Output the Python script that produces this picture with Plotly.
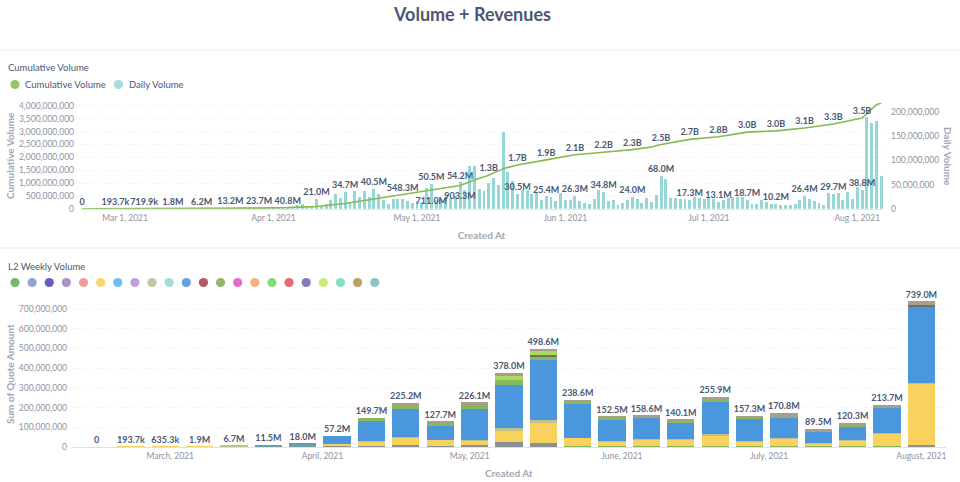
import pandas as pd
import plotly.graph_objects as go

W, H = 960, 482

# ---------- top chart data ----------
daily_start = "2021-02-20"
daily_m = [
    0, 0.01, 0.02, 0.02, 0.03, 0.03, 0.04, 0.05, 0.06,
    .08, .08, .1, .12, .1, .15, .15, .2, .2, .2, .2, .4, .5, .7, .8, 1, 1, 1, 1, 1.2, 1.3, 1.2, 1.3,
    1.5, 1.7, 1.8, 1.8, 1.8, 1.9, 2, 2.2,
    2.5, 3, 3.2, 4.2, 3, 7, 10, 4, 3,
    21, 5, 10, 19, 31, 23, 34.7, 12, 37, 24, 36, 25, 40.5, 30, 18, 10, 21, 21, 21, 16, 11,
    15, 14, 43, 50.5, 17, 19, 22, 22, 26, 54.2, 38, 89, 89, 41, 36, 54, 63, 48, 159, 76, 58, 30.5,
    38, 38, 31, 32, 19, 25.4, 25, 15, 32,
    19, 19, 26.3, 15, 12, 10, 21, 39, 34.8, 16, 19, 7, 12, 17, 24, 21, 12, 23, 14, 29, 68, 62, 23,
    22, 21, 21, 17.3, 25, 23, 21,
    22, 21, 13.1, 19, 22, 24, 25, 25, 18.7, 10, 10, 19, 13, 10, 10.2, 8, 7, 7, 10, 19, 26.4, 21, 15,
    12, 8, 33, 29.7, 32, 19, 35, 21,
    45, 38.8, 190, 177, 182, 67,
]
cum_dates = ["2021-02-20", "2021-02-27", "2021-03-05", "2021-03-11", "2021-03-17", "2021-03-23",
             "2021-03-29", "2021-04-04", "2021-04-10", "2021-04-16", "2021-04-22", "2021-04-28",
             "2021-05-04", "2021-05-10", "2021-05-13", "2021-05-16", "2021-05-19", "2021-05-22",
             "2021-05-28", "2021-06-03", "2021-06-09", "2021-06-15", "2021-06-19", "2021-06-21",
             "2021-06-27", "2021-07-03", "2021-07-09", "2021-07-15", "2021-07-21", "2021-07-27",
             "2021-08-02", "2021-08-03", "2021-08-04", "2021-08-05", "2021-08-06"]
cum_m = [0, .1937, .7199, 1.8, 6.2, 13.2, 23.7, 40.8, 85, 205, 375, 548.3, 711, 903.3, 1120, 1300,
         1560, 1700, 1900, 2100, 2200, 2300, 2400, 2500, 2700, 2800, 2980, 3030, 3140, 3300,
         3530, 3710, 3880, 4050, 4120]

cum_label_dates = ["2021-02-20", "2021-02-27", "2021-03-05", "2021-03-11", "2021-03-17", "2021-03-23",
                   "2021-03-29", "2021-04-04", "2021-04-28", "2021-05-16", "2021-05-22", "2021-05-28",
                   "2021-06-03", "2021-06-09", "2021-06-15", "2021-06-21", "2021-06-27", "2021-07-03",
                   "2021-07-09", "2021-07-15", "2021-07-21", "2021-07-27", "2021-08-02"]
cum_label_vals = [0, .1937, .7199, 1.8, 6.2, 13.2, 23.7, 40.8, 548.3, 1300, 1700, 1900, 2100, 2200,
                  2300, 2500, 2700, 2800, 2980, 3030, 3140, 3300, 3530]
cum_label_text = ["0", "193.7k", "719.9k", "1.8M", "6.2M", "13.2M", "23.7M", "40.8M", "548.3M", "1.3B",
                  "1.7B", "1.9B", "2.1B", "2.2B", "2.3B", "2.5B", "2.7B", "2.8B", "3.0B", "3.0B",
                  "3.1B", "3.3B", "3.5B"]
cum_low_dates = ["2021-05-04", "2021-05-10"]
cum_low_vals = [711, 903.3]
cum_low_text = ["711.0M", "903.3M"]

day_label_dates = ["2021-04-10", "2021-04-16", "2021-04-22", "2021-05-04", "2021-05-10", "2021-05-22",
                   "2021-05-28", "2021-06-03", "2021-06-09", "2021-06-15", "2021-06-21", "2021-06-27",
                   "2021-07-03", "2021-07-09", "2021-07-15", "2021-07-21", "2021-07-27", "2021-08-02"]
day_label_vals = [21, 34.7, 40.5, 50.5, 54.2, 30.5, 25.4, 26.3, 34.8, 24, 68, 17.3, 13.1, 18.7, 10.2,
                  26.4, 29.7, 38.8]
day_label_text = ["21.0M", "34.7M", "40.5M", "50.5M", "54.2M", "30.5M", "25.4M", "26.3M", "34.8M",
                  "24.0M", "68.0M", "17.3M", "13.1M", "18.7M", "10.2M", "26.4M", "29.7M", "38.8M"]

# ---------- bottom chart data ----------
weeks = ["2021-02-14", "2021-02-21", "2021-02-28", "2021-03-07", "2021-03-14", "2021-03-21", "2021-03-28",
         "2021-04-04", "2021-04-11", "2021-04-18", "2021-04-25", "2021-05-02", "2021-05-09", "2021-05-16",
         "2021-05-23", "2021-05-30", "2021-06-06", "2021-06-13", "2021-06-20", "2021-06-27", "2021-07-04",
         "2021-07-11", "2021-07-18", "2021-07-25", "2021-08-01"]
totals = [0, .1937, .6353, 1.9, 6.7, 11.5, 18.0, 57.2, 149.7, 225.2, 127.7, 226.1, 378.0, 498.6, 238.6,
          152.5, 158.6, 140.1, 255.9, 157.3, 170.8, 89.5, 120.3, 213.7, 739.0]
total_text = ["0", "193.7k", "635.3k", "1.9M", "6.7M", "11.5M", "18.0M", "57.2M", "149.7M", "225.2M",
              "127.7M", "226.1M", "378.0M", "498.6M", "238.6M", "152.5M", "158.6M", "140.1M", "255.9M",
              "157.3M", "170.8M", "89.5M", "120.3M", "213.7M", "739.0M"]
grey_base = [0, 0, 0, 0, 0, 0, 0, 3, 6, 8, 6, 12, 24, 20, 0, 0, 0, 0, 0, 0, 0, 0, 0, 0, 8]
green_low = [0, 0, 0, 0, 0, 0, 0, 0, 0, 0, 0, 0, 0, 0, 4, 3, 3, 3, 5, 3, 3, 5, 3, 4, 0]
teal_low = [0, 0, 0, 0, 0, 11.5, 18, 0, 0, 0, 0, 0, 0, 0, 0, 0, 0, 0, 0, 0, 0, 0, 0, 0, 0]
yellow = [0, .1937, .6353, 1.9, 0, 0, 0, 12.2, 24, 38, 30, 20, 61, 105, 44, 25, 36, 33, 54, 25, 42, 14, 28, 62, 312]
olive = [0, 0, 0, 0, 6.7, 0, 0, 0, 2.7, 3, 2, 5, 10, 10, 0, 5, 4, 3, 8, 3, 3, 3, 3, 3, 5]
blue = [0, 0, 0, 0, 0, 0, 0, 42, 97, 142, 70, 157, 221, 306, 171, 108, 105, 85, 162, 115, 102, 56, 70, 130, 388]
green = [0, 0, 0, 0, 0, 0, 0, 0, 20, 22, 14, 24, 25, 14, 8, 10, 7, 9, 15, 6, 3.8, 7, 9, 8, 0]
dark = [0, 0, 0, 0, 0, 0, 0, 0, 0, 0, 0, 0, 0, 13, 0, 0, 0, 0, 0, 0, 0, 0, 0, 0, 8]
lime = [0, 0, 0, 0, 0, 0, 0, 0, 0, 0, 0, 0, 17, 24, 0, 0, 0, 0, 0, 0, 0, 0, 0, 0, 0]
tan = [0, 0, 0, 0, 0, 0, 0, 0, 0, 12.2, 5.7, 8.1, 20, 6.6, 11.6, 1.5, 3.6, 7.1, 11.9, 5.3, 17, 4.5, 7.3, 6.7, 18]
stack_names = ["Grey", "Low green", "Teal", "Yellow", "Olive", "Blue", "Green", "Dark", "Lime", "Tan"]
stack_values = [grey_base, green_low, teal_low, yellow, olive, blue, green, dark, lime, tan]
stack_colors = ["#8b9096", "#8db35a", "#6c9fa8", "#f8d25c", "#c0c28c", "#4a97de", "#86b95a", "#6f7170",
                "#a9dc5e", "#a89e8a"]

legend_colors = ["#55ad55", "#7f93c6", "#4a41ae", "#9b80c2", "#e98d88", "#f9cf58", "#55b4ee", "#b78de0",
                 "#b4bd90", "#94d6d4", "#4a90d9", "#a83c4c", "#7fa84c", "#e24fc6", "#f2a56c", "#6bd65c",
                 "#e84c5e", "#6a66a8", "#c2e660", "#70dcb0", "#b08f4a", "#7ab8bc"]

TEXT = "#4c5773"
TICK = "#8d93a3"
TITLE = "#a2a7b5"
FONT = "Lato, 'Noto Sans', sans-serif"


def fx(px):
    return px / W


def fy(px):
    return 1 - px / H


M = 1e6
day_x = pd.date_range(daily_start, periods=len(daily_m), freq="D")
DAY_MS = 86400000
LABEL = dict(size=9, color=TEXT, family=FONT, weight=700)
SPACER = dict(size=1, opacity=0)  # invisible marker that sets the label's distance from its point
SPACER_LOW = dict(size=10, opacity=0)

fig = go.Figure()

fig.add_bar(x=day_x, y=[v * M for v in daily_m], name="Daily Volume", marker_color="#95d6d6",
            marker_line_width=0, width=0.62 * DAY_MS, xaxis="x", yaxis="y")
fig.add_scatter(x=day_label_dates, y=[v * M for v in day_label_vals], text=day_label_text, mode="markers+text",
                marker=SPACER, textposition="top center", textfont=LABEL,
                cliponaxis=False, xaxis="x", yaxis="y", showlegend=False)
fig.add_scatter(x=cum_dates, y=[v * M for v in cum_m], name="Cumulative Volume", mode="lines",
                line=dict(color="#86ba4e", width=1.6), xaxis="x", yaxis="y2", cliponaxis=False)
fig.add_scatter(x=cum_label_dates, y=[v * M for v in cum_label_vals], text=cum_label_text, mode="markers+text",
                marker=SPACER, textposition="top center", textfont=LABEL,
                cliponaxis=False, xaxis="x", yaxis="y2", showlegend=False)
fig.add_scatter(x=cum_low_dates, y=[v * M for v in cum_low_vals], text=cum_low_text, mode="markers+text",
                marker=SPACER_LOW, textposition="bottom center", textfont=LABEL,
                cliponaxis=False, xaxis="x", yaxis="y2", showlegend=False)

for name, vals, color in zip(stack_names, stack_values, stack_colors):
    fig.add_bar(x=weeks, y=[v * M for v in vals], name=name, marker_color=color, marker_line_width=0,
                width=5.55 * DAY_MS, xaxis="x2", yaxis="y3")
fig.add_scatter(x=weeks, y=[v * M for v in totals], text=total_text, mode="markers+text",
                marker=SPACER, textposition="top center", textfont=LABEL,
                cliponaxis=False, xaxis="x2", yaxis="y3", showlegend=False)

shapes = []
annots = []


def dot(px, py, color, r=4.6):
    shapes.append(dict(type="circle", xref="paper", yref="paper", x0=fx(px - r), x1=fx(px + r),
                       y0=fy(py + r), y1=fy(py - r), fillcolor=color, opacity=0.85,
                       line=dict(width=0), layer="above"))


def label(px, py, text, size=9.5, color=TEXT, weight=400, xanchor="left", angle=0):
    annots.append(dict(x=fx(px), y=fy(py), xref="paper", yref="paper", text=text, showarrow=False,
                       xanchor=xanchor, yanchor="middle", borderpad=0, borderwidth=0, textangle=angle,
                       font=dict(size=size, color=color, family=FONT, weight=weight)))


label(472, 14, "Volume + Revenues", size=18, weight=700, xanchor="center")
label(8, 68, "Cumulative Volume")
label(8, 266, "L2 Weekly Volume")
dot(15, 84.5, "#86ba4e")
label(25, 84.5, "Cumulative Volume")
dot(118.5, 84.5, "#95d6d6")
label(128.5, 84.5, "Daily Volume")
for i, c in enumerate(legend_colors):
    dot(15 + i * 17.13, 282.5, c)

titlefont = dict(size=10, color=TITLE, family=FONT, weight=700)
label(10, 156, "Cumulative Volume", size=10, color=TITLE, weight=700, xanchor="center", angle=-90)
label(948, 156, "Daily Volume", size=10, color=TITLE, weight=700, xanchor="center", angle=90)
label(10, 374, "Sum of Quote Amount", size=10, color=TITLE, weight=700, xanchor="center", angle=-90)

for py in (50, 248):
    shapes.append(dict(type="line", xref="paper", yref="paper", x0=0, x1=1, y0=fy(py), y1=fy(py),
                       line=dict(color="#ebebee", width=1)))

tickfont = dict(size=8.5, color=TICK, family=FONT)
grid = dict(showgrid=True, gridcolor="#f3f3f5", griddash="dot", gridwidth=1)

fig.update_layout(
    width=W, height=H, margin=dict(l=0, r=0, t=0, b=0, autoexpand=False),
    paper_bgcolor="white", plot_bgcolor="white", barmode="stack", showlegend=False,
    font=dict(family=FONT), shapes=shapes, annotations=annots,
    xaxis=dict(domain=[fx(80), fx(883)], anchor="y", type="date",
               range=["2021-02-19 14:00", "2021-08-06 09:00"],
               tick0="2021-03-01", dtick="M1", tickformat="%b %-d, %Y", showgrid=False,
               showline=True, linecolor="#e6e7eb", ticks="", tickfont=tickfont, ticklabelstandoff=1,
               title=dict(text="Created At", font=titlefont, standoff=10)),
    yaxis=dict(domain=[fy(208.7), fy(102.9)], anchor="x", side="right", range=[0, 218.8e6],
               tickvals=[0, 50e6, 100e6, 150e6, 200e6], tickformat=",d", showgrid=False, zeroline=False,
               tickfont=tickfont, ticklabelstandoff=7),
    yaxis2=dict(domain=[fy(208.7), fy(102.9)], anchor="x", overlaying="y", side="left", range=[0, 4.12e9],
                tickvals=[i * 5e8 for i in range(9)], tickformat=",d", zeroline=False, tickfont=tickfont,
                ticklabelstandoff=5, **grid),
    xaxis2=dict(domain=[fx(72), fx(945.5)], anchor="y3", type="date",
                range=["2021-02-09", "2021-08-05 22:00"],
                tick0="2021-03-01", dtick="M1", tickformat="%B, %Y", showgrid=False,
                showline=True, linecolor="#dfe1e6", ticks="", tickfont=tickfont, ticklabelstandoff=1,
                title=dict(text="Created At", font=titlefont, standoff=9)),
    yaxis3=dict(domain=[fy(447), fy(300)], anchor="x2", range=[0, 746e6],
                tickvals=[i * 1e8 for i in range(8)], tickformat=",d", zeroline=False, tickfont=tickfont,
                ticklabelstandoff=4, **grid),
)

fig.write_html("out.html", config={"displayModeBar": False},
               post_script="document.body.style.margin = '0';")
